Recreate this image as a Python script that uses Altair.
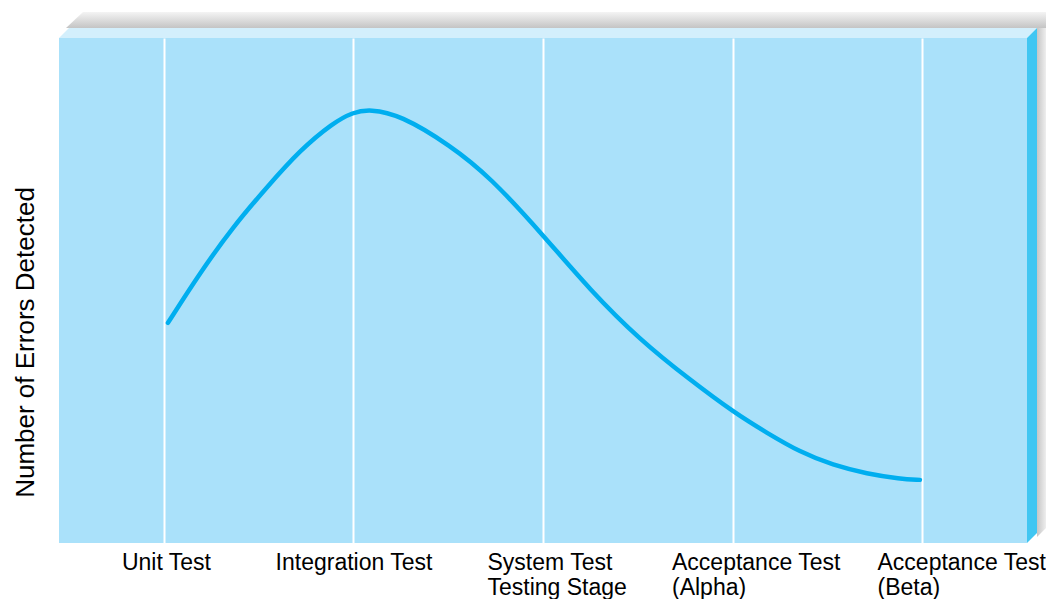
import json
import altair as alt
import pandas as pd

# ---- data ----
stage_pos = [0, 1, 2, 3, 4]
stage_lines = [
    ["Unit Test"],
    ["Integration Test"],
    ["System Test", "Testing Stage"],
    ["Acceptance Test", "(Alpha)"],
    ["Acceptance Test", "(Beta)"],
]
curve_x = [0.021, 0.190, 0.364, 0.544, 0.718, 0.892, 0.997, 1.087, 1.245, 1.509,
           1.720, 2.000, 2.248, 2.512, 2.776, 3.013, 3.182, 3.356, 3.530, 3.710,
           3.884, 3.989]
curve_y = [43.6, 53.5, 62.6, 70.5, 77.8, 83.2, 85.3, 85.9, 84.8, 78.8,
           72.5, 61.0, 50.1, 40.2, 32.3, 25.7, 21.8, 18.0, 15.4, 13.7,
           12.7, 12.5]

FONT = "Liberation Sans"
W, H = 968, 505
D = 10  # depth of the 3D frame

curve = pd.DataFrame({"stage": curve_x, "errors": curve_y})
one = pd.DataFrame({"k": [0]})


def poly(points):
    return "M " + " L ".join(f"{x} {y}" for x, y in points) + " Z"


def grad(c0, c1, horizontal=False):
    return alt.LinearGradient(
        gradient="linear",
        stops=[alt.GradientStop(color=c0, offset=0), alt.GradientStop(color=c1, offset=1)],
        x1=0, y1=0, x2=1 if horizontal else 0, y2=0 if horizontal else 1,
    )


def deco(points, fill):
    return alt.Chart(one).mark_point(
        shape=poly(points), size=4, filled=True, fill=fill, strokeWidth=0, opacity=1
    ).encode(x=alt.value(0), y=alt.value(0))


shadow_top = deco([(7, -D), (24, -26), (W + 19, -26), (W + 19, -D)],
                  grad("#f4f4f4", "#c4c4c4"))
shadow_right = deco([(W + D, -D), (W + 19, -D), (W + 19, H - 15), (W + D, H - 6)],
                    grad("#c6c6c6", "#eeeeee", horizontal=True))
top_face = deco([(0, 0), (D, -D), (W + D, -D), (W, 0)], "#d3effc")
right_face = deco([(W, 0), (W + D, -D), (W + D, H - D), (W, H)], "#40c6f2")

x_enc = alt.X(
    "stage:Q",
    scale=alt.Scale(domain=[-0.554, 4.554], nice=False, zero=False),
    axis=alt.Axis(
        values=stage_pos,
        labelExpr=json.dumps(stage_lines) + "[datum.value]",
        grid=True, gridColor="white", gridWidth=2,
        ticks=False, tickSize=0, domain=False, title=None,
        labelFont=FONT, labelFontSize=23, labelColor="black",
        labelPadding=8, labelBaseline="top", labelLineHeight=25,
        labelFlush=False, labelOverlap=False, labelBound=False,
        labelAlign={"condition": {"test": "datum.value >= 2", "value": "left"}, "value": "center"},
        labelOffset={"condition": [
            {"test": "datum.value == 0", "value": 2},
            {"test": "datum.value == 2", "value": -56},
            {"test": "datum.value == 3", "value": -61},
            {"test": "datum.value == 4", "value": -45},
        ], "value": 0},
    ),
)
y_enc = alt.Y(
    "errors:Q",
    scale=alt.Scale(domain=[0, 100], nice=False, zero=False),
    axis=alt.Axis(
        title="Number of Errors Detected", labels=False, ticks=False, domain=False, grid=False,
        titleFont=FONT, titleFontSize=26, titleFontWeight="normal", titleColor="black",
        titleAngle=270, titleX=-26, titleY=304, titleAlign="center", titleBaseline="alphabetic",
    ),
)

line = alt.Chart(curve).mark_line(
    color="#00aeef", strokeWidth=4.5, interpolate="basis", strokeCap="round"
).encode(x=x_enc, y=y_enc)

chart = alt.layer(shadow_top, shadow_right, top_face, right_face, line).properties(
    width=W, height=H,
    autosize=alt.AutoSizeParams(type="none"),
    padding={"left": 59, "top": 38, "right": 19, "bottom": 56},
    background="white",
).configure_view(fill="#aae1fa", strokeWidth=0)

chart.save("out.html", embed_options={"renderer": "svg", "actions": False})
